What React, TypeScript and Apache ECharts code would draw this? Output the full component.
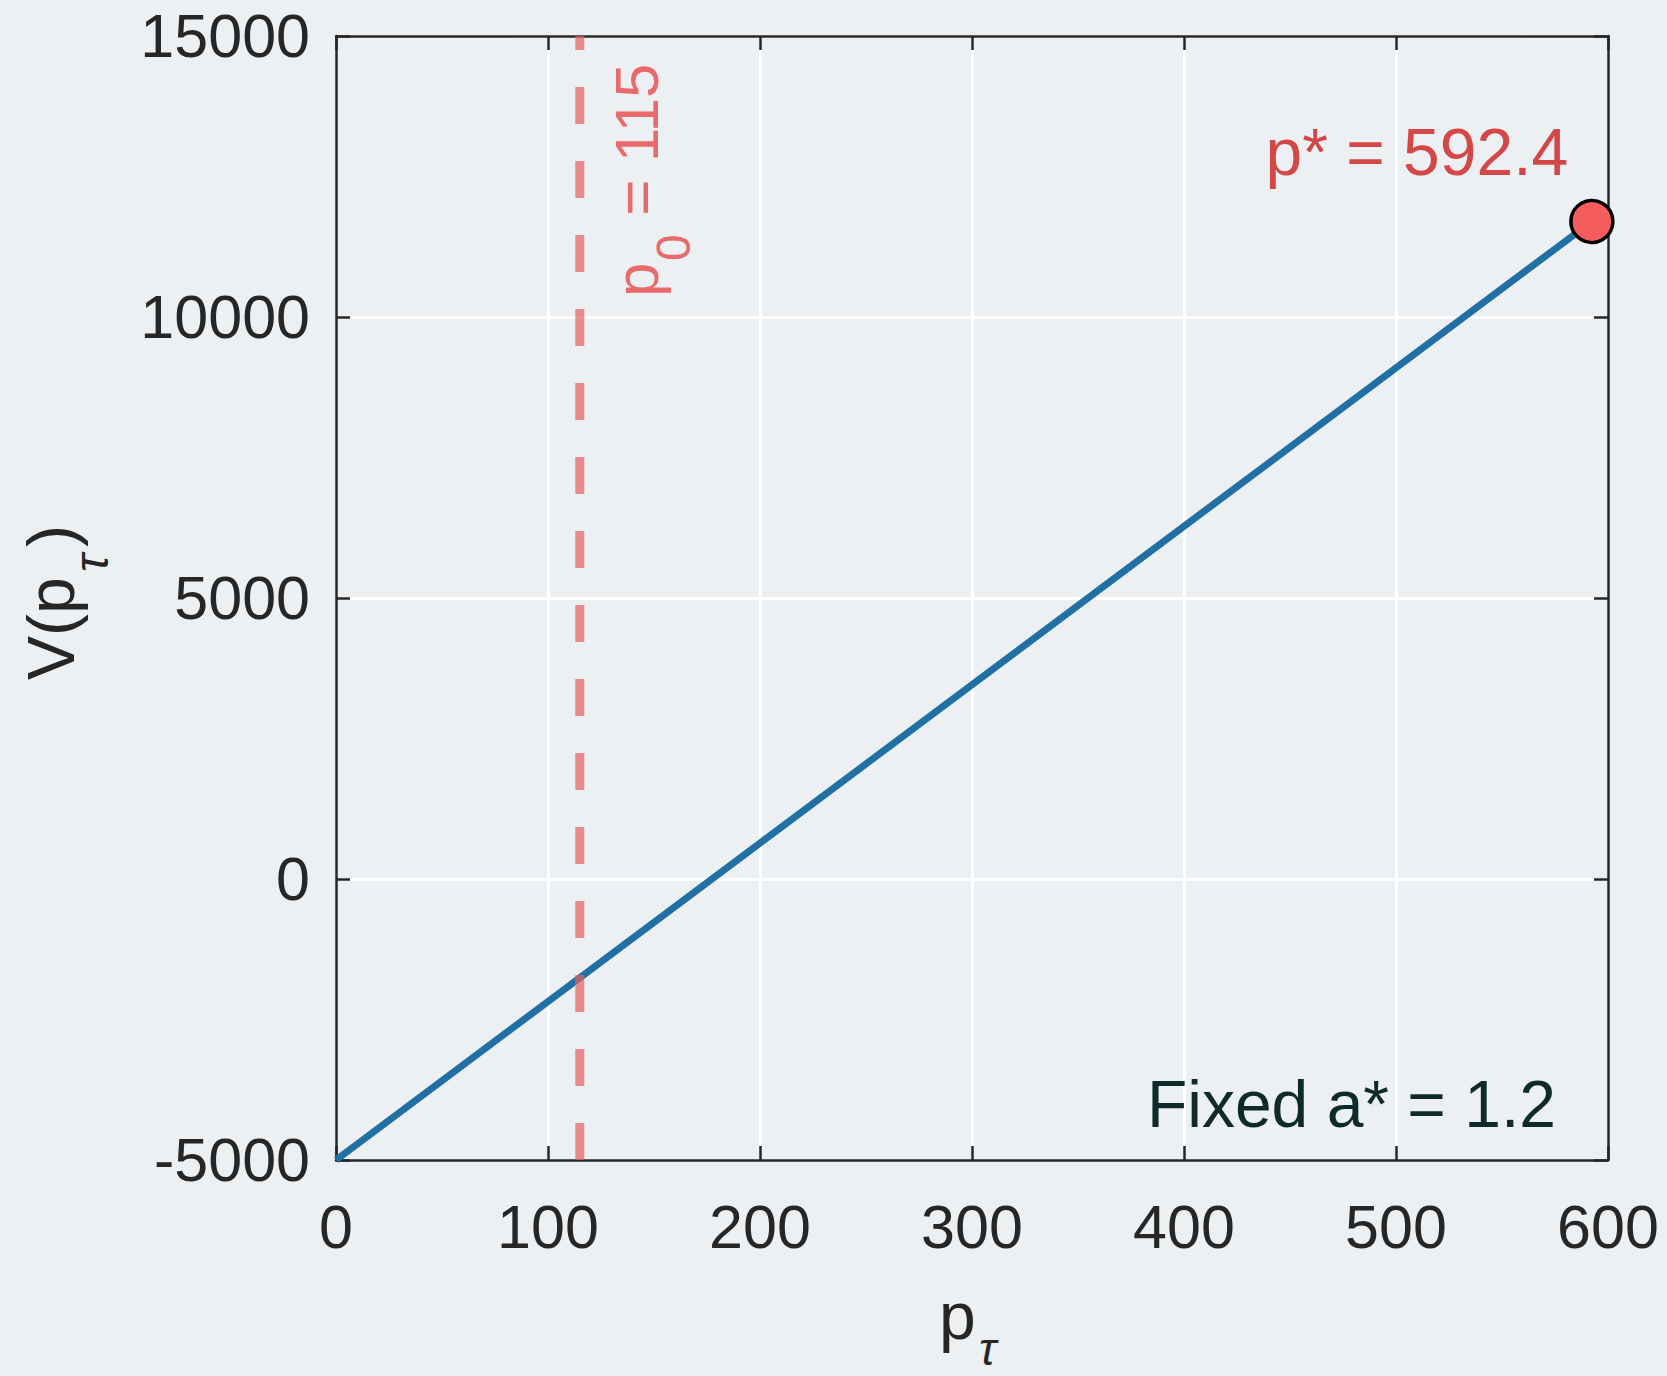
import React, { useEffect, useRef } from "react";
import * as echarts from "echarts";

// ---- data ----
const xTickRange = [0, 600];
const xTickStep = 100;
const yTickRange = [-5000, 15000];
const yTickStep = 5000;
const linePrice = [0, 592.4];
const lineValue = [-5000, 11700];
const p0Value = 115;
const pStar = 592.4;
const vStar = 11700;
const aStarText = "Fixed a* = 1.2";
const pStarText = "p* = 592.4";

const FONT = "'Liberation Sans', Arial, Helvetica, sans-serif";
const BG = "#ECF0F3";
const AX = "#262626";

export default function App() {
  const ref = useRef<HTMLDivElement>(null);
  useEffect(() => {
    if (!ref.current) return;
    const chart = echarts.init(ref.current, undefined, { renderer: "svg" });
    const axisCommon = {
      type: "value" as const,
      axisLine: { show: true, onZero: false, lineStyle: { color: AX, width: 2.5 } },
      axisTick: { show: true, inside: true, length: 14, lineStyle: { color: AX, width: 2.5 } },
    };
    const plain = (v: number) => String(v);
    const option: any = {
      animation: false,
      backgroundColor: BG,
      grid: { left: 336, right: 59, top: 36, bottom: 216, containLabel: false },
      xAxis: [
        {
          ...axisCommon,
          min: xTickRange[0],
          max: xTickRange[1],
          interval: xTickStep,
          position: "bottom",
          axisLabel: { color: AX, fontSize: 61, fontFamily: FONT, margin: 36, formatter: plain },
          splitLine: { show: true, lineStyle: { color: "#ffffff", width: 3 } },
        },
        {
          ...axisCommon,
          min: xTickRange[0],
          max: xTickRange[1],
          interval: xTickStep,
          position: "top",
          axisLabel: { show: false },
          splitLine: { show: false },
        },
      ],
      yAxis: [
        {
          ...axisCommon,
          min: yTickRange[0],
          max: yTickRange[1],
          interval: yTickStep,
          position: "left",
          axisLabel: { color: AX, fontSize: 61, fontFamily: FONT, margin: 26, formatter: plain },
          splitLine: { show: true, lineStyle: { color: "#ffffff", width: 3 } },
        },
        {
          ...axisCommon,
          min: yTickRange[0],
          max: yTickRange[1],
          interval: yTickStep,
          position: "right",
          axisLabel: { show: false },
          splitLine: { show: false },
        },
      ],
      series: [
        {
          type: "line",
          data: linePrice.map((p, i) => [p, lineValue[i]]),
          showSymbol: false,
          symbol: "none",
          lineStyle: { color: "#2170A4", width: 7 },
          z: 2,
        },
        {
          type: "line",
          data: [
            [p0Value, yTickRange[0]],
            [p0Value, yTickRange[1]],
          ],
          showSymbol: false,
          symbol: "none",
          lineStyle: { color: "rgba(226,100,100,0.72)", width: 9, type: [37, 37], cap: "butt" },
          z: 3,
        },
        {
          type: "scatter",
          data: [[pStar, vStar]],
          symbol: "circle",
          symbolSize: 42,
          clip: false,
          itemStyle: { color: "#F45D5D", borderColor: "#000000", borderWidth: 3.5, opacity: 1 },
          z: 4,
        },
      ],
    };
    chart.setOption(option);

    const p0Px = chart.convertToPixel({ gridIndex: 0 }, [p0Value, yTickRange[1]]) as number[];
    const starPx = chart.convertToPixel({ gridIndex: 0 }, [pStar, vStar]) as number[];
    const botRight = chart.convertToPixel({ gridIndex: 0 }, [xTickRange[1], yTickRange[0]]) as number[];
    const topLeft = chart.convertToPixel({ gridIndex: 0 }, [xTickRange[0], yTickRange[1]]) as number[];
    const midX = (topLeft[0] + botRight[0]) / 2;
    const midY = (topLeft[1] + botRight[1]) / 2;

    const txt = (x: number, y: number, text: string, size: number, fill: string, align = "left", italic = false) => ({
      type: "text",
      x,
      y,
      style: {
        text,
        fontSize: size,
        fontFamily: FONT,
        fontStyle: italic ? "italic" : "normal",
        fill,
        align,
        textAlign: align,
        verticalAlign: "middle",
        textVerticalAlign: "middle",
      },
    });

    const p0Col = "#E96A6A";
    chart.setOption({
      graphic: [
        // p0 = 115 vertical label
        {
          type: "group",
          x: p0Px[0] + 78.5,
          y: p0Px[1] + 261,
          rotation: Math.PI / 2,
          children: [
            txt(0, -21.7, "p", 62, p0Col),
            txt(36, 15, "0", 48, p0Col),
            txt(64, -21.7, " = 115", 62, p0Col),
          ],
        },
        // y axis label V(p_tau)
        {
          type: "group",
          x: 74,
          y: midY + 82,
          rotation: Math.PI / 2,
          children: [
            txt(0, -23, "V(p", 66, AX),
            txt(108, 17, "τ", 48, AX, "left", true),
            txt(133, -23, ")", 66, AX),
          ],
        },
        // x axis label p_tau
        txt(midX - 33, 1316, "p", 66, AX),
        txt(midX + 7, 1349, "τ", 46, AX, "left", true),
        // p* label
        txt(starPx[0] - 175, starPx[1] - 69, pStarText, 66, "#D34747", "center"),
        // Fixed a*
        txt(botRight[0] - 52, botRight[1] - 56, aStarText, 66, "#0E2A2A", "right"),
      ],
    });

    return () => chart.dispose();
  }, []);
  return (
    <div
      ref={ref}
      style={{ position: "fixed", left: 0, top: 0, width: 1667, height: 1376, background: BG }}
    />
  );
}
